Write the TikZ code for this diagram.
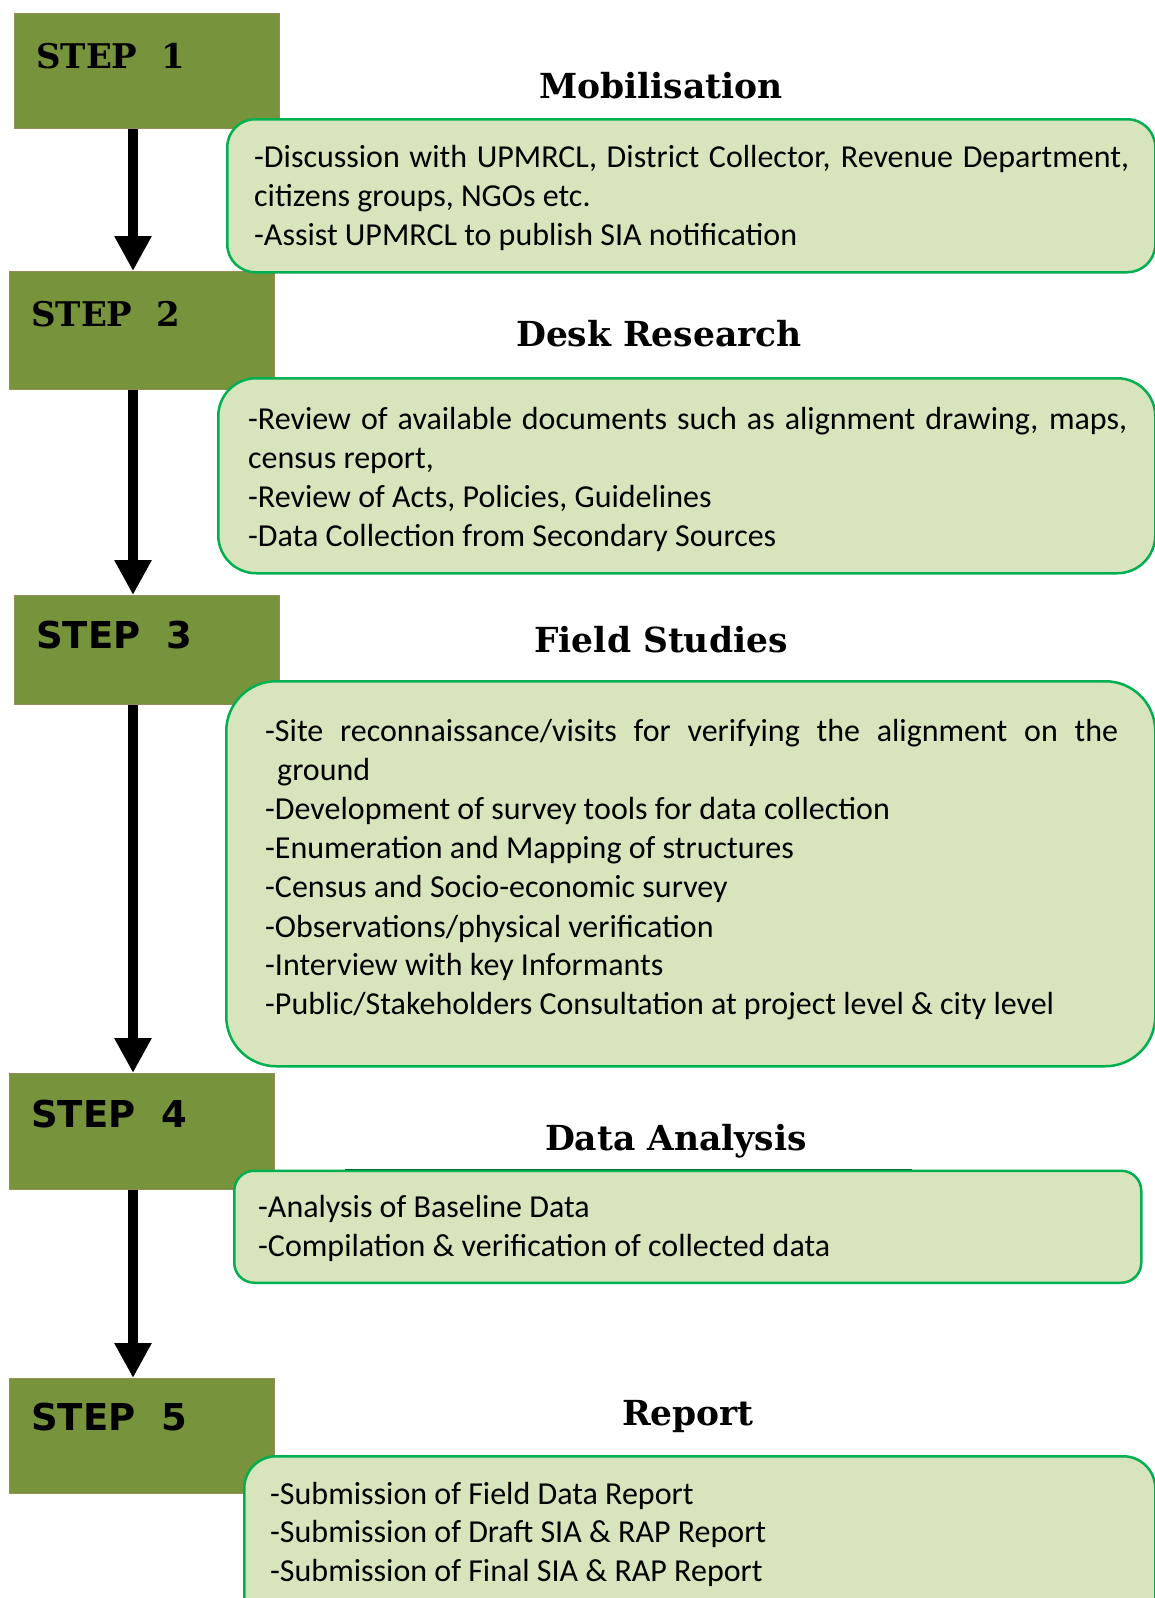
\documentclass[tikz,border=0pt]{standalone}
\usepackage{fontspec}
\setmainfont{Carlito}
\newfontfamily\titlefont{DejaVu Serif}
\newfontfamily\blackfont{DejaVu Sans}
\usetikzlibrary{arrows.meta}
\definecolor{olive}{RGB}{119,147,60}
\definecolor{olivedraw}{RGB}{150,137,90}
\definecolor{boxfill}{RGB}{216,228,188}
\definecolor{boxdraw}{RGB}{0,176,80}
\tikzset{
  stepbox/.style={rectangle, fill=olive, draw=olivedraw, line width=1pt, anchor=north west, inner sep=0pt},
  infobox/.style={rectangle, fill=boxfill, draw=boxdraw, line width=2.5pt, anchor=north west, inner sep=0pt},
  steptxt/.style={anchor=base west, inner sep=0pt, font=\titlefont\bfseries\fontsize{34pt}{34pt}\selectfont},
  steptxtb/.style={anchor=base west, inner sep=0pt, font=\blackfont\bfseries\fontsize{37pt}{37pt}\selectfont},
  title/.style={anchor=base, inner sep=0pt, font=\titlefont\bfseries\fontsize{34.5pt}{34.5pt}\selectfont},
  line/.style={anchor=base west, inner sep=0pt, font=\fontsize{32pt}{32pt}\selectfont},
  arr/.style={line width=10pt, -{Triangle[width=35pt,length=35pt]}},
}
\begin{document}
\begin{tikzpicture}[x=1pt,y=-1pt]
\useasboundingbox (0,0) rectangle (1155,1598);
\clip (0,0) rectangle (1155,1598);
\coordinate (ax) at (133,0);
% step boxes
\node[stepbox, minimum width=265pt, minimum height=115pt] (s1) at (14,13) {};
\node[stepbox, minimum width=265pt, minimum height=118pt] (s2) at (9,271) {};
\node[stepbox, minimum width=265pt, minimum height=109pt] (s3) at (14,595) {};
\node[stepbox, minimum width=265pt, minimum height=116pt] (s4) at (9,1073) {};
\node[stepbox, minimum width=265pt, minimum height=115pt] (s5) at (9,1378) {};
\node[steptxt] (t1) at (36,68) {STEP\ \ 1};
\node[steptxt] (t2) at (31,326) {STEP\ \ 2};
\node[steptxtb] (t3) at (36,648) {STEP\ \ 3};
\node[steptxtb] (t4) at (31,1127) {STEP\ \ 4};
\node[steptxtb] (t5) at (31,1430) {STEP\ \ 5};
% arrows
\draw[arr] (s1.south -| ax) -- (s2.north -| ax);
\draw[arr] (s2.south -| ax) -- (s3.north -| ax);
\draw[arr] (s3.south -| ax) -- (s4.north -| ax);
\draw[arr] (s4.south -| ax) -- (s5.north -| ax);
% info boxes
\node[infobox, rounded corners=28pt, minimum width=928pt, minimum height=153pt] (b1) at (226,118) {};
\node[infobox, rounded corners=38pt, minimum width=937pt, minimum height=195pt] (b2) at (217,377) {};
\node[infobox, rounded corners=50pt, minimum width=929pt, minimum height=385pt] (b3) at (225,680) {};
\node[infobox, rounded corners=20pt, minimum width=907pt, minimum height=112pt] (b4) at (233,1169.5) {};
\node[infobox, rounded corners=32pt, minimum width=911pt, minimum height=180pt] (b5) at (243,1455) {};
\fill[white] (345,1166) rectangle (912,1169.2);
\draw[line width=1.2pt, boxdraw!60!black] (345,1169.6) -- (912,1169.6);
% titles
\node[title] (h1) at (661,98) {Mobilisation};
\node[title] (h2) at (659,346) {Desk Research};
\node[title] (h3) at (661,652) {Field Studies};
\node[title] (h4) at (676,1150) {Data Analysis};
\node[title] (h5) at (688,1425) {Report};
% box 1 text
\node[line] (l11) at (254,167) {\makebox[875pt][s]{-Discussion with UPMRCL, District Collector, Revenue Department,}};
\node[line] (l12) at (254,206) {citizens groups, NGOs etc.};
\node[line] (l13) at (254,245) {-Assist UPMRCL to publish SIA notification};
% box 2 text
\node[line] (l21) at (248,429) {\makebox[879pt][s]{-Review of available documents such as alignment drawing, maps,}};
\node[line] (l22) at (248,468) {census report,};
\node[line] (l23) at (248,507) {-Review of Acts, Policies, Guidelines};
\node[line] (l24) at (248,546) {-Data Collection from Secondary Sources};
% box 3 text
\node[line] (l31) at (265,741) {\makebox[853pt][s]{-Site reconnaissance/visits for verifying the alignment on the}};
\node[line] (l32) at (277,780) {ground};
\node[line] (l33) at (265,819) {-Development of survey tools for data collection};
\node[line] (l34) at (265,858) {-Enumeration and Mapping of structures};
\node[line] (l35) at (265,897) {-Census and Socio-economic survey};
\node[line] (l36) at (265,937) {-Observations/physical verification};
\node[line] (l37) at (265,975) {-Interview with key Informants};
\node[line] (l38) at (265,1014) {-Public/Stakeholders Consultation at project level \& city level};
% box 4 text
\node[line] (l41) at (258,1217) {-Analysis of Baseline Data};
\node[line] (l42) at (258,1256) {-Compilation \& verification of collected data};
% box 5 text
\node[line] (l51) at (270,1504) {-Submission of Field Data Report};
\node[line] (l52) at (270,1542) {-Submission of Draft SIA \& RAP Report};
\node[line] (l53) at (270,1581) {-Submission of Final SIA \& RAP Report};
\end{tikzpicture}
\end{document}
